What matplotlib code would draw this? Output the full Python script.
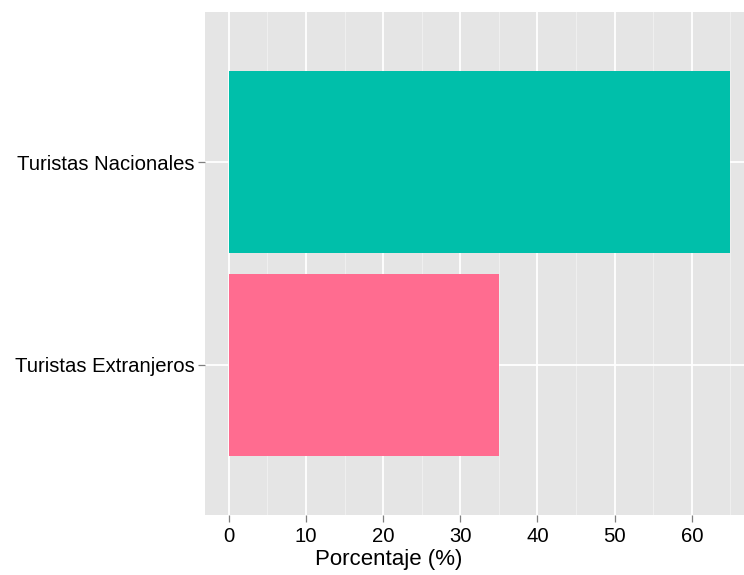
import matplotlib
matplotlib.use("Agg")
import matplotlib.pyplot as plt
from matplotlib.ticker import MultipleLocator

# datos
categorias = ["Turistas Extranjeros", "Turistas Nacionales"]
porcentajes = [35, 65]
colores = ["#FF6C90", "#00BFAA"]

plt.rcParams['font.family'] = ['Liberation Sans', 'DejaVu Sans']

fig = plt.figure(figsize=(7.44, 5.75), dpi=100)
ax = fig.add_axes([205 / 744, 1 - 515 / 575, 1 - 205 / 744, (515 - 12) / 575])

pos = [1, 2]
ax.barh(pos, porcentajes, height=0.9, color=colores, zorder=3)

ax.set_facecolor("#E5E5E5")
ax.set_xlim(-3.1, 66.77)
ax.set_ylim(0.26, 2.74)
ax.set_yticks(pos)
ax.set_yticklabels(categorias)
ax.xaxis.set_major_locator(MultipleLocator(10))
ax.xaxis.set_minor_locator(MultipleLocator(5))
ax.grid(which="major", color="white", linewidth=1.3, zorder=1)
ax.grid(which="minor", axis="x", color="#F0F0F0", linewidth=0.7, zorder=1)
for s in ax.spines.values():
    s.set_visible(False)
ax.tick_params(which="major", length=5, width=0.9, color="#7F7F7F",
               labelcolor="black")
ax.tick_params(axis="y", labelsize=14.6, pad=2.5)
ax.tick_params(axis="x", labelsize=14.6, pad=4)
ax.tick_params(which="minor", length=0)
ax.set_xlabel("Porcentaje (%)", fontsize=16)
ax.xaxis.set_label_coords((389 - 205) / (744 - 205), -(560 - 515) / 503)
ax.xaxis.label.set_va("center")

fig.savefig("out.png", dpi=100)
